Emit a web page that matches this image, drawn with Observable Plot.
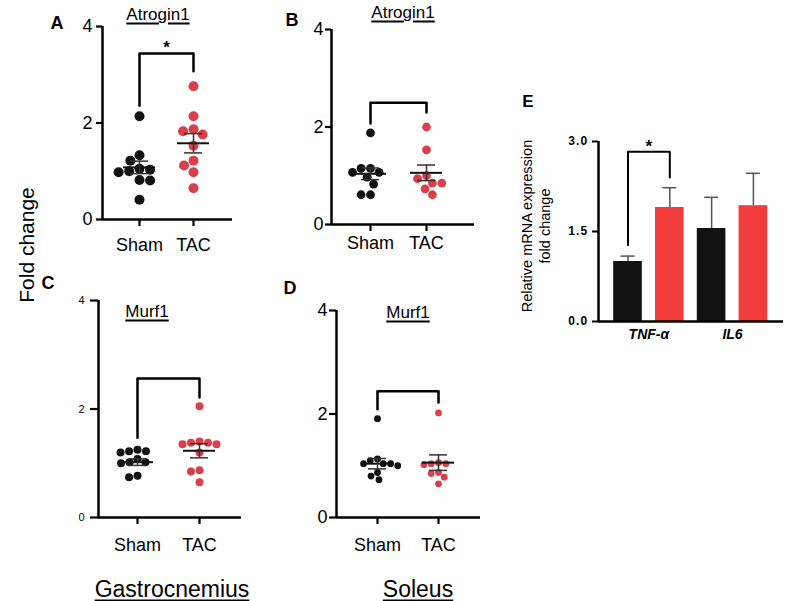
<!DOCTYPE html>
<html><head><meta charset="utf-8">
<script src="https://cdn.jsdelivr.net/npm/d3@7"></script>
<script src="https://cdn.jsdelivr.net/npm/@observablehq/plot@0.6"></script>
<style>
html,body{margin:0;padding:0;background:#fff;}
#stage{position:relative;width:788px;height:601px;overflow:hidden;font-family:"Liberation Sans",Arial,sans-serif;color:#000;}
#stage svg{position:absolute;background:transparent !important;overflow:visible;}
.lbl{position:absolute;transform:translate(-50%,-50%);white-space:nowrap;line-height:1;}
.ul{text-decoration:underline;text-decoration-thickness:1.5px;text-underline-offset:3px;}
.b{font-weight:bold;}
.rot{transform:translate(-50%,-50%) rotate(-90deg);text-align:center;}
.pe [aria-label="y-axis tick label"]{letter-spacing:1.2px;}
</style></head><body><div id="stage"></div>
<script>
// ---------- data ----------
const groups = ["Sham", "TAC"];
// Panel A: Gastrocnemius Atrogin1
const shamA = [2.14, 1.33, 1.22, 1.05, 1.03, 1.0, 0.98, 0.82, 0.81, 0.41];
const tacA  = [2.76, 2.14, 1.87, 1.83, 1.76, 1.53, 1.22, 1.12, 0.98, 0.65];
const meanA = [1.08, 1.58];
const semA  = [0.13, 0.2];
const bracketA = [2.36, 3.44, 3.07];
const starA = 3.56;
// Panel B: Soleus Atrogin1
const shamB = [1.88, 1.15, 1.15, 1.07, 1.07, 0.97, 0.83, 0.61, 0.61];
const tacB  = [2.0, 1.53, 1.0, 0.94, 0.85, 0.85, 0.73, 0.61];
const meanB = [1.04, 1.06];
const semB  = [0.12, 0.16];
const bracketB = [2.07, 2.5, 2.3];
// Panel C: Gastrocnemius Murf1
const shamC = [1.25, 1.22, 1.22, 1.2, 1.08, 1.02, 1.02, 1.0, 0.77, 0.74];
const tacC  = [2.05, 1.4, 1.38, 1.38, 1.35, 1.35, 1.2, 0.87, 0.85, 0.65];
const meanC = [1.02, 1.23];
const semC  = [0.06, 0.13];
const bracketC = [1.47, 2.56, 2.21];
// Panel D: Soleus Murf1
const shamD = [1.91, 1.13, 1.1, 1.04, 1.04, 1.04, 1.0, 0.87, 0.8, 0.73];
const tacD  = [2.02, 1.06, 1.04, 1.04, 1.02, 0.87, 0.85, 0.78, 0.65];
const meanD = [1.04, 1.06];
const semD  = [0.1, 0.15];
const bracketD = [2.09, 2.44, 2.22];
// Panel E: relative mRNA expression
const genesE = ["TNF-α", "IL6"];
const shamE = [1.0, 1.55];
const tacE  = [1.9, 1.93];
const shamErrE = [0.09, 0.52];
const tacErrE  = [0.33, 0.54];
const bracketE = [1.27, 2.83, 2.4];
const starE = 2.91;
const ticksDot = [0, 2, 4];
const ticksE = [0, 1.5, 3];

// ---------- helpers ----------
const stage = document.getElementById("stage");
const FONT = '"Liberation Sans", Arial, sans-serif';
const SHAM_COLOR = "#111111", TAC_COLOR = "#d8404c", BAR_RED = "#f23b3b";

function place(node, left, top) {
  node.style.left = left + "px"; node.style.top = top + "px";
  stage.appendChild(node);
}
function label(html, x, y, size, cls = "") {
  const d = document.createElement("div");
  d.className = "lbl " + cls;
  d.style.left = x + "px"; d.style.top = y + "px"; d.style.fontSize = size + "px";
  d.innerHTML = html;
  stage.appendChild(d);
}
// beeswarm offsets (pixels -> x units), computed at run time
function swarm(values, kx, ky, r) {
  const d = 2 * r + 0.6;
  const order = d3.range(values.length).sort((a, b) => values[b] - values[a]);
  const placed = [], off = new Array(values.length);
  for (const i of order) {
    const y = values[i] * ky;
    const cands = [0];
    for (const p of placed) {
      const dy = Math.abs(p.y - y);
      if (dy < d) { const dx = Math.sqrt(d * d - dy * dy); cands.push(p.x + dx, p.x - dx); }
    }
    cands.sort((a, b) => Math.abs(a) - Math.abs(b) || a - b);
    let x = 0;
    for (const c of cands) {
      if (placed.every(p => (p.x - c) ** 2 + (p.y - y) ** 2 >= d * d - 1e-6)) { x = c; break; }
    }
    placed.push({x, y}); off[i] = x / kx;
  }
  return off;
}

function dotPanel({sham, tac, mean, sem, br, star, g}) {
  const kx = g.tacX - g.shamX, ky = (g.zeroY - g.topY) / 4;
  const x0 = (g.axisX - g.shamX) / kx, x1 = 1 + (g.endX - g.tacX) / kx;
  const pts = [[], []];
  [sham, tac].forEach((vals, gi) => {
    const off = swarm(vals, kx, ky, g.r);
    vals.forEach((v, j) => pts[gi].push({gi, v, off: off[j]}));
  });
  const stats = mean.map((m, gi) => ({gi, m, lo: m - sem[gi], hi: m + sem[gi]}));
  const mh = 16 / kx, wh = 9 / kx;
  const marks = [
    Plot.ruleY([0], {strokeWidth: 2.5}),
    Plot.ruleX([x0], {strokeWidth: 2.5}),
    Plot.axisY({ticks: ticksDot, tickFormat: "d", tickSize: g.ytick, tickPadding: g.ypad, fontSize: g.yfont, strokeWidth: 2.2, label: null}),
    Plot.axisX({ticks: [0, 1], tickFormat: i => groups[i], tickSize: 7, tickPadding: g.xpad, fontSize: 18, strokeWidth: 2.2, label: null}),
    Plot.line([[0, br[0]], [0, br[1]], [1, br[1]], [1, br[2]]], {strokeWidth: 2.5}),
    Plot.dot(pts[0], {x: d => d.gi + d.off, y: "v", r: g.r, fill: SHAM_COLOR}),
    Plot.dot(pts[1], {x: d => d.gi + d.off, y: "v", r: g.r, fill: TAC_COLOR}),
    Plot.ruleY(stats, {y: "m", x1: d => d.gi - mh, x2: d => d.gi + mh, strokeWidth: 2, stroke: "#111"}),
    Plot.ruleX(stats, {x: "gi", y1: "lo", y2: "hi", strokeWidth: 1.5, stroke: "#333"}),
    Plot.ruleY(stats, {y: "lo", x1: d => d.gi - wh, x2: d => d.gi + wh, strokeWidth: 1.5, stroke: "#333"}),
    Plot.ruleY(stats, {y: "hi", x1: d => d.gi - wh, x2: d => d.gi + wh, strokeWidth: 1.5, stroke: "#333"})
  ];
  if (star != null) marks.push(Plot.text(["*"], {x: 0.5, y: star, text: d => d, fontSize: 17, fontWeight: "bold"}));
  const p = Plot.plot({
    width: g.width, height: g.height,
    marginLeft: g.axisX - g.left, marginRight: g.left + g.width - g.endX,
    marginTop: g.topY - g.top, marginBottom: g.top + g.height - g.zeroY,
    x: {domain: [x0, x1]},
    y: {domain: [0, 4]},
    style: {fontFamily: FONT, color: "#000", background: "transparent", overflow: "visible"},
    marks
  });
  place(p, g.left, g.top);
}

// ---------- panels ----------
dotPanel({sham: shamA, tac: tacA, mean: meanA, sem: semA, br: bracketA, star: starA,
  g: {left: 40, top: 5, width: 200, height: 255, axisX: 102, zeroY: 219, topY: 26, endX: 232,
      shamX: 139, tacX: 193, r: 5, ytick: 6, ypad: 4, yfont: 18, xpad: 12}});
dotPanel({sham: shamB, tac: tacB, mean: meanB, sem: semB, br: bracketB,
  g: {left: 280, top: 5, width: 205, height: 255, axisX: 331, zeroY: 224, topY: 29, endX: 474,
      shamX: 370, tacX: 426, r: 4.4, ytick: 6, ypad: 2, yfont: 18, xpad: 5}});
dotPanel({sham: shamC, tac: tacC, mean: meanC, sem: semC, br: bracketC,
  g: {left: 40, top: 290, width: 210, height: 270, axisX: 98, zeroY: 517, topY: 300, endX: 241,
      shamX: 137, tacX: 199, r: 4, ytick: 8, ypad: 6, yfont: 11, xpad: 14}});
dotPanel({sham: shamD, tac: tacD, mean: meanD, sem: semD, br: bracketD,
  g: {left: 280, top: 295, width: 210, height: 265, axisX: 336, zeroY: 517, topY: 310, endX: 480,
      shamX: 377, tacX: 438, r: 3.4, ytick: 7, ypad: 2, yfont: 18, xpad: 14}});

// Panel E
(function () {
  const g = {left: 540, top: 115, width: 248, height: 245, axisX: 598, zeroY: 321, topY: 141, endX: 783, firstX: 627.5, step: 41.8};
  const kx = g.step;
  const x0 = (g.axisX - g.firstX) / kx, x1 = 3 + (g.endX - (g.firstX + 3 * kx)) / kx;
  const bars = [];
  genesE.forEach((gene, k) => {
    bars.push({i: 2 * k, v: shamE[k], e: shamErrE[k], fill: SHAM_COLOR});
    bars.push({i: 2 * k + 1, v: tacE[k], e: tacErrE[k], fill: BAR_RED});
  });
  const bh = 14.3 / kx, wh = 7 / kx;
  const p = Plot.plot({
    className: "pe",
    width: g.width, height: g.height,
    marginLeft: g.axisX - g.left, marginRight: g.left + g.width - g.endX,
    marginTop: g.topY - g.top, marginBottom: g.top + g.height - g.zeroY,
    x: {domain: [x0, x1]},
    y: {domain: [0, 3]},
    style: {fontFamily: FONT, color: "#000", background: "transparent", overflow: "visible"},
    marks: [
      Plot.ruleX(bars, {x: "i", y1: "v", y2: d => d.v + d.e, strokeWidth: 1.5, stroke: "#555"}),
      Plot.ruleY(bars, {y: d => d.v + d.e, x1: d => d.i - wh, x2: d => d.i + wh, strokeWidth: 1.5, stroke: "#555"}),
      Plot.rect(bars.filter(d => d.fill === SHAM_COLOR), {x1: d => d.i - bh, x2: d => d.i + bh, y1: 0, y2: "v", fill: SHAM_COLOR}),
      Plot.rect(bars.filter(d => d.fill !== SHAM_COLOR), {x1: d => d.i - bh, x2: d => d.i + bh, y1: 0, y2: "v", fill: BAR_RED}),
      Plot.ruleY([0], {strokeWidth: 2.5}),
      Plot.ruleX([x0], {strokeWidth: 2.5}),
      Plot.axisY({ticks: ticksE, tickFormat: ".1f", tickSize: 6, tickPadding: 4, fontSize: 12, fontWeight: "bold", strokeWidth: 2, label: null}),
      Plot.axisX({ticks: [0.5, 2.5], tickFormat: v => genesE[Math.round((v - 0.5) / 2)], tickSize: 0, tickPadding: 8, fontSize: 14, fontStyle: "italic", fontWeight: "bold", label: null}),
      Plot.line([[0, bracketE[0]], [0, bracketE[1]], [1, bracketE[1]], [1, bracketE[2]]], {strokeWidth: 2}),
      Plot.text(["*"], {x: 0.5, y: starE, text: d => d, fontSize: 17, fontWeight: "bold"})
    ]
  });
  place(p, g.left, g.top);
})();

// ---------- text labels ----------
label("A", 57, 23, 18, "b");
label("B", 292, 20, 18, "b");
label("C", 48, 283, 18, "b");
label("D", 290, 288, 18, "b");
label("E", 528, 101, 17, "b");
label("Atrogin1", 158, 14, 17, "ul");
label("Atrogin1", 403, 12, 17, "ul");
label("Murf1", 147, 311, 17, "ul");
label("Murf1", 408, 312, 17, "ul");
label("Gastrocnemius", 172, 589, 23, "ul");
label("Soleus", 418, 589, 23, "ul");
label("Fold change", 26, 245, 21, "rot");
label('<div style="line-height:18px">Relative mRNA expression<br>fold change</div>', 536, 226, 14.5, "rot");
</script></body></html>
